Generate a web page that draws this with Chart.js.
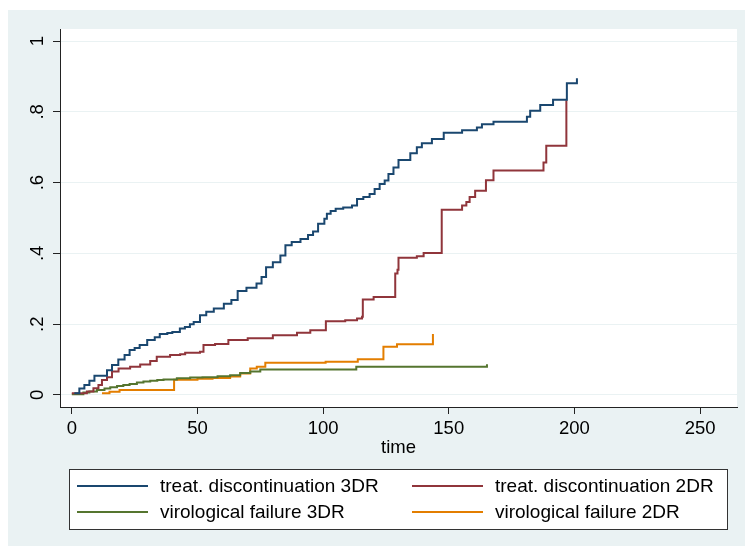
<!DOCTYPE html>
<html>
<head>
<meta charset="utf-8">
<script src="https://cdn.jsdelivr.net/npm/chart.js@4.4.0/dist/chart.umd.min.js"></script>
<style>
  body { margin: 0; background: #ffffff; }
  canvas { display: block; }
</style>
</head>
<body>
<canvas id="kmChart" width="745" height="548"></canvas>
<script>
const xTicks = [0, 50, 100, 150, 200, 250];
const yTicks = [0, 0.2, 0.4, 0.6, 0.8, 1];
const seriesLabels = [
    "treat. discontinuation 3DR",
    "treat. discontinuation 2DR",
    "virological failure 3DR",
    "virological failure 2DR",
];
const seriesColors = ["#1a476f", "#90353b", "#55752f", "#e37e00"];

// treat. discontinuation 3DR
const td3Time = [1, 3, 5, 7, 9, 14, 16, 18.5, 21, 23, 25, 27, 30, 33, 35, 38, 40, 43, 45, 47, 48.5, 51, 53.5, 56.5, 60.5, 63.5, 66, 69.5, 73.5, 75.5, 77.3, 80, 83, 85, 87.5, 91, 94, 96, 98, 100.5, 101.5, 103, 105, 108, 111.5, 113.5, 116, 118.5, 120.5, 122.5, 124.5, 126, 128, 130, 134.7, 137.3, 139.3, 143.3, 148, 155.3, 161.2, 163.2, 167.8, 181.1, 182.4, 186.4, 191.5, 197, 201];
const td3Fail = [0.005, 0.018, 0.028, 0.04, 0.054, 0.07, 0.085, 0.1, 0.113, 0.127, 0.133, 0.141, 0.155, 0.163, 0.172, 0.175, 0.178, 0.188, 0.192, 0.2, 0.206, 0.225, 0.235, 0.244, 0.258, 0.268, 0.294, 0.303, 0.315, 0.333, 0.361, 0.375, 0.394, 0.423, 0.432, 0.441, 0.452, 0.462, 0.484, 0.498, 0.512, 0.52, 0.526, 0.53, 0.535, 0.554, 0.559, 0.568, 0.582, 0.596, 0.606, 0.624, 0.643, 0.664, 0.683, 0.7, 0.711, 0.723, 0.741, 0.748, 0.756, 0.765, 0.772, 0.786, 0.803, 0.819, 0.834, 0.881, 0.895];

// treat. discontinuation 2DR
const td2Time = [0, 6, 8.6, 10.6, 12, 14, 16, 18.6, 23.2, 27.2, 31.2, 33.8, 39.1, 43.1, 45.1, 51, 52.4, 57, 62.3, 70, 80, 89.6, 94.9, 101.1, 108.8, 113.5, 115.5, 115.8, 120.1, 128.7, 129.6, 130, 137.3, 140, 147.2, 155.3, 157, 158.3, 160.5, 164.8, 167.8, 187.7, 188.8, 196.8];
const td2Fail = [0.005, 0.01, 0.019, 0.028, 0.042, 0.05, 0.066, 0.075, 0.08, 0.086, 0.096, 0.108, 0.113, 0.115, 0.119, 0.122, 0.141, 0.144, 0.155, 0.16, 0.169, 0.176, 0.183, 0.208, 0.211, 0.216, 0.221, 0.27, 0.277, 0.343, 0.354, 0.388, 0.392, 0.401, 0.523, 0.535, 0.545, 0.559, 0.577, 0.607, 0.634, 0.657, 0.704, 0.833];

// virological failure 3DR
const vf3Time = [0, 4.6, 7, 10, 13, 15.3, 18, 20.5, 23, 25.9, 28.5, 31.2, 34, 36.5, 41.8, 47.1, 52, 58, 63, 67, 71, 75, 113.2, 165.2];
const vf3Fail = [0.002, 0.007, 0.01, 0.014, 0.018, 0.022, 0.025, 0.028, 0.031, 0.035, 0.038, 0.04, 0.042, 0.044, 0.047, 0.049, 0.05, 0.053, 0.056, 0.062, 0.066, 0.072, 0.08, 0.087];

// virological failure 2DR
const vf2Time = [12, 15, 19, 40.7, 50, 56, 63, 67, 71, 73.6, 77, 101, 113.8, 124, 129.4, 143.7];
const vf2Fail = [0.005, 0.009, 0.014, 0.043, 0.046, 0.048, 0.052, 0.061, 0.075, 0.08, 0.091, 0.094, 0.101, 0.136, 0.143, 0.172];

const FONT = "'Liberation Sans', Arial, sans-serif";
const toPoints = (ts, vs) => ts.map((t, i) => ({ x: t, y: vs[i] }));
const series = [[td3Time, td3Fail], [td2Time, td2Fail], [vf3Time, vf3Fail], [vf2Time, vf2Fail]];

const fmtY = v => {
    const s = String(Math.round(v * 10) / 10);
    return s.startsWith("0.") ? s.slice(1) : s;
};

const background = {
    id: "background",
    beforeDraw(chart) {
        const { ctx, chartArea: a } = chart;
        ctx.save();
        ctx.fillStyle = "#ffffff";
        ctx.fillRect(0, 0, chart.width, chart.height);
        ctx.fillStyle = "#eaf2f3";
        ctx.fillRect(8, 10, chart.width - 8, chart.height - 12);
        ctx.fillStyle = "#ffffff";
        ctx.fillRect(a.left, a.top, a.right - a.left, a.bottom - a.top);
        ctx.restore();
    }
};

const yLabels = {
    id: "yLabels",
    afterDraw(chart) {
        const { ctx } = chart;
        const s = chart.scales.y;
        ctx.save();
        ctx.fillStyle = "#000000";
        ctx.font = "18.5px " + FONT;
        ctx.textAlign = "center";
        ctx.textBaseline = "middle";
        s.ticks.forEach(t => {
            ctx.save();
            ctx.translate(s.right - 22.5, s.getPixelForValue(t.value));
            ctx.rotate(-Math.PI / 2);
            ctx.fillText(fmtY(t.value), 0, 0);
            ctx.restore();
        });
        ctx.restore();
    }
};

const boxLegend = {
    id: "boxLegend",
    afterDraw(chart) {
        const { ctx } = chart;
        const lineX = [77, 412];
        const textX = [160, 495];
        const rowY = [486, 512];
        ctx.save();
        ctx.fillStyle = "#ffffff";
        ctx.fillRect(69.5, 469.5, 658, 60);
        ctx.strokeStyle = "#333333";
        ctx.lineWidth = 1;
        ctx.strokeRect(69.5, 469.5, 658, 60);
        ctx.font = "19px " + FONT;
        ctx.textBaseline = "middle";
        ctx.textAlign = "left";
        chart.data.datasets.forEach((ds, i) => {
            const col = i % 2, row = Math.floor(i / 2);
            ctx.strokeStyle = ds.borderColor;
            ctx.lineWidth = 2;
            ctx.beginPath();
            ctx.moveTo(lineX[col], rowY[row]);
            ctx.lineTo(lineX[col] + 71, rowY[row]);
            ctx.stroke();
            ctx.fillStyle = "#000000";
            ctx.fillText(ds.label, textX[col], rowY[row] + 1);
        });
        ctx.restore();
    }
};

const kmConfig = {
    type: "line",
    data: {
        datasets: series.map((s, i) => ({
            label: seriesLabels[i],
            data: toPoints(s[0], s[1]),
            borderColor: seriesColors[i],
            backgroundColor: seriesColors[i],
            borderWidth: 2,
            pointRadius: 0,
            stepped: "before",
            fill: false,
        })),
    },
    options: {
        responsive: false,
        animation: false,
        events: [],
        layout: { padding: { left: 0, top: 29, right: 8, bottom: 0 } },
        plugins: {
            legend: { display: false },
            tooltip: { enabled: false },
        },
        scales: {
            x: {
                type: "linear",
                min: -4.7,
                max: 264.7,
                afterBuildTicks: s => { s.ticks = xTicks.map(v => ({ value: v })); },
                afterFit: s => { s.height = 141; },
                grid: { drawOnChartArea: false, drawTicks: true, tickLength: 7, tickColor: "#222222", color: "#222222" },
                border: { color: "#222222", width: 1 },
                ticks: { color: "#000000", padding: 4, maxRotation: 0, font: { family: FONT, size: 18.5 } },
                title: { display: true, text: "time", color: "#000000", font: { family: FONT, size: 18.5 }, padding: { top: 0, bottom: 89 } },
            },
            y: {
                type: "linear",
                min: -0.034,
                max: 1.034,
                afterBuildTicks: s => { s.ticks = yTicks.map(v => ({ value: v })); },
                afterFit: s => { s.width = 60; },
                grid: { color: "#eaf2f3", lineWidth: 1, drawTicks: true, tickLength: 7, tickColor: "#222222" },
                border: { color: "#222222", width: 1 },
                ticks: { display: false },
            },
        },
    },
    plugins: [background, yLabels, boxLegend],
};

const kmChart = new Chart(document.getElementById("kmChart"), kmConfig);
</script>
</body>
</html>
